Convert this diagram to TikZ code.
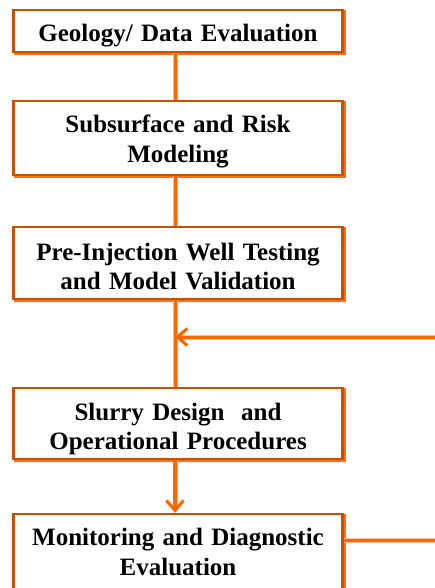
\documentclass[tikz,border=0pt]{standalone}
\usepackage{fontspec}
\setmainfont{Liberation Serif}
\usetikzlibrary{arrows.meta}
\definecolor{boxdark}{RGB}{200,80,0}
\definecolor{boxlight}{RGB}{255,110,20}
\definecolor{linecol}{RGB}{255,102,0}
\definecolor{glow}{RGB}{255,190,150}
\begin{document}
\begin{tikzpicture}[x=1pt,y=-1pt,
 stepbox/.style={draw=boxdark, line width=2.5pt, fill=white, minimum width=329pt,
   inner sep=0pt,
   preaction={draw=boxlight, line width=3pt, transform canvas={xshift=1.5pt,yshift=-1.5pt}}},
 steptext/.style={anchor=base, text width=320pt, align=center, inner sep=0pt,
   font=\bfseries\fontsize{25}{29}\selectfont},
 conn/.style={draw=linecol, line width=3pt, preaction={draw=glow, line width=5pt}},
 tip/.style={-{Straight Barb[length=10pt,width=17pt,line width=3pt]}}]
\useasboundingbox (0,0) rectangle (435,588);
\coordinate (xline) at (175,0);
\node[stepbox, minimum height=42pt] (g) at (178,31) {};
\node[stepbox, minimum height=74pt] (s) at (178,138) {};
\node[stepbox, minimum height=72pt] (p) at (178,263) {};
\node[stepbox, minimum height=71pt] (d) at (178,423.5) {};
\node[stepbox, minimum height=78pt] (m) at (178,553) {};
\node[steptext] (gt) at (178,42) {Geology/ Data Evaluation};
\node[steptext] (st) at (178,133) {Subsurface and Risk\\Modeling};
\node[steptext] (pt) at (178,260) {Pre-Injection Well Testing\\and Model Validation};
\node[steptext] (dt) at (178,420) {Slurry Design\ \ and\\Operational Procedures};
\node[steptext, font=\bfseries\fontsize{25}{30}\selectfont] (mt) at (178,545) {Monitoring and Diagnostic\\Evaluation};
\coordinate (fb) at (445,337);
\coordinate (out) at (445,540);
\draw[conn] (g.south -| xline) -- (s.north -| xline);
\draw[conn] (s.south -| xline) -- (p.north -| xline);
\draw[conn] (p.south -| xline) -- (d.north -| xline);
\draw[conn, line width=4pt, tip] (d.south -| xline) -- (m.north -| xline);
\draw[conn, tip] (fb) -- (fb -| xline);
\draw[conn] (m.east |- out) -- (out);
\end{tikzpicture}
\end{document}
